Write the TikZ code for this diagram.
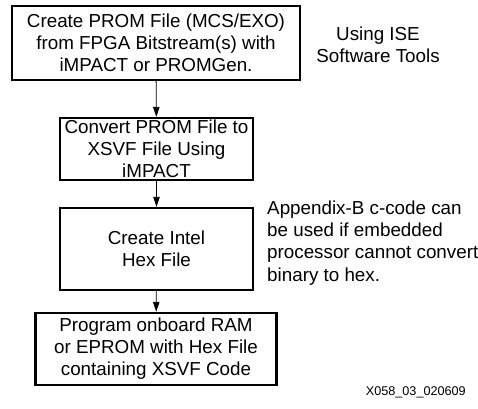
\documentclass[tikz,border=0pt]{standalone}
\usepackage{fontspec}
\setmainfont{Liberation Sans}
\usetikzlibrary{arrows.meta}
\begin{document}
\begin{tikzpicture}[
  font=\fontsize{10.7}{12.6}\selectfont,
  stepbox/.style={draw,line width=1.3pt,align=center,inner sep=0pt},
  flow/.style={-{Triangle[length=0.2cm,width=0.13cm]},line width=0.5pt}]
\useasboundingbox (0,0) rectangle (9.56,8.18);
\node[stepbox,minimum width=5.76cm,minimum height=1.48cm] (prom) at (3.12,7.32) {Create PROM File (MCS/EXO)\\from FPGA Bitstream(s) with\\iMPACT or PROMGen.};
\node[stepbox,minimum width=3.86cm,minimum height=1.24cm] (xsvf) at (3.13,5.2) {Convert PROM File to\\XSVF File Using\\iMPACT};
\node[stepbox,minimum width=3.86cm,minimum height=1.64cm] (hex) at (3.13,3.2) {Create Intel\\Hex File};
\node[stepbox,minimum width=4.82cm,minimum height=1.44cm] (prog) at (3.12,1.2) {Program onboard RAM\\or EPROM with Hex File\\containing XSVF Code};
\node[align=center] (ise) at (7.56,7.28) {Using ISE\\Software Tools};
\node[align=left,anchor=west] (appx) at (5.22,3.32) {Appendix-B c-code can\\be used if embedded\\processor cannot convert\\binary to hex.};
\node[anchor=east,font=\fontsize{7.2}{8.6}\selectfont] (fig) at (9.44,0.34) {X058\_03\_020609};
\draw[flow] (prom) -- (xsvf);
\draw[flow] (xsvf) -- (hex);
\draw[flow] (hex) -- (prog);
\end{tikzpicture}
\end{document}
